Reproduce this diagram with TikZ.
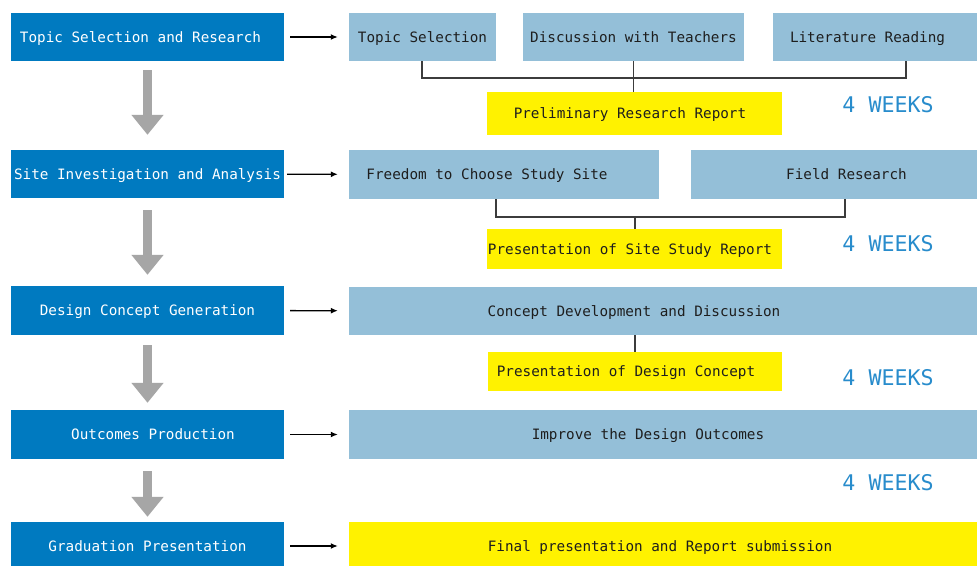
\documentclass[tikz,border=0pt]{standalone}
\usepackage{fontspec}
\setmonofont{DejaVu Sans Mono}
\usetikzlibrary{arrows.meta,calc}
\definecolor{dblue}{RGB}{0,122,192}
\definecolor{lblue}{RGB}{148,191,216}
\definecolor{yel}{RGB}{255,242,0}
\definecolor{garrow}{RGB}{166,166,166}
\definecolor{wblue}{RGB}{40,140,204}
\definecolor{txt}{RGB}{30,30,30}
\definecolor{lcol}{RGB}{60,60,60}
\tikzset{
  basefont/.style={font=\ttfamily\fontsize{14.3}{17}\selectfont, text height=10.4pt, text depth=0pt},
  lbox/.style={basefont, fill=dblue, text=white, minimum width=273pt, minimum height=48pt, inner sep=0pt},
  rbox/.style={basefont, fill=lblue, text=txt, inner sep=0pt},
  ybox/.style={basefont, fill=yel, text=txt, inner sep=0pt},
  weeks/.style={text=wblue, inner sep=0pt, font=\ttfamily\fontsize{21.6}{24}\selectfont},
  flow/.style={draw=black, line width=1.3pt, -{Latex[length=7pt,width=6pt]}},
  down/.style={draw=garrow, line width=9pt, -{Triangle[length=20pt,width=31pt]}},
  conn/.style={draw=lcol, line width=1.5pt}
}
\begin{document}
\begin{tikzpicture}[x=1pt,y=-1pt]
\useasboundingbox (0,0) rectangle (977,565);
\fill[white] (0,0) rectangle (977,565);
% left column
\node[lbox] (l1) at (147.5,37) {Topic Selection and Research\hspace*{14pt}};
\node[lbox] (l2) at (147.5,174) {Site Investigation and Analysis};
\node[lbox, minimum height=49pt] (l3) at (147.5,310.5) {Design Concept Generation};
\node[lbox, minimum height=49pt] (l4) at (147.5,434.5) {\hspace*{11pt}Outcomes Production};
\node[lbox] (l5) at (147.5,546) {Graduation Presentation};
% row 1
\node[rbox, minimum width=147pt, minimum height=48pt] (ts) at (422.5,37) {Topic Selection};
\node[rbox, minimum width=221pt, minimum height=48pt] (dt) at (633.5,37) {Discussion with Teachers};
\node[rbox, minimum width=204pt, minimum height=48pt] (lr) at (875,37) {Literature Reading\hspace*{15pt}};
\node[ybox, minimum width=295pt, minimum height=43pt] (pr) at (634.5,113.5) {Preliminary Research Report\hspace*{9pt}};
\node[weeks] (w1) at (888,105) {4 WEEKS};
% row 2
\node[rbox, minimum width=310pt, minimum height=49pt] (fc) at (504,174.5) {Freedom to Choose Study Site\hspace*{34pt}};
\node[rbox, minimum width=286pt, minimum height=49pt] (fr) at (834,174.5) {\hspace*{25pt}Field Research};
\node[ybox, minimum width=295pt, minimum height=40pt] (ys) at (634.5,249) {Presentation of Site Study Report\hspace*{9pt}};
\node[weeks] (w2) at (888,244) {4 WEEKS};
% row 3
\node[rbox, minimum width=628pt, minimum height=48pt] (cd) at (663,311) {Concept Development and Discussion\hspace*{58pt}};
\node[ybox, minimum width=294pt, minimum height=39pt] (yc) at (635,371.5) {Presentation of Design Concept\hspace*{18pt}};
\node[weeks] (w3) at (888,378) {4 WEEKS};
% row 4
\node[rbox, minimum width=628pt, minimum height=49pt] (ib) at (663,434.5) {Improve the Design Outcomes\hspace*{30pt}};
\node[weeks] (w4) at (888,483) {4 WEEKS};
% row 5
\node[ybox, minimum width=628pt, minimum height=48pt] (fp) at (663,546) {Final presentation and Report submission\hspace*{6pt}};
% horizontal flow arrows
\draw[flow, shorten <=6pt, shorten >=11pt] (l1) -- (ts);
\draw[flow, shorten <=3pt, shorten >=11pt] (l2) -- (fc);
\draw[flow, shorten <=6pt, shorten >=11pt] (l3) -- (cd);
\draw[flow, shorten <=6pt, shorten >=11pt] (l4) -- (ib);
\draw[flow, shorten <=6pt, shorten >=11pt] (l5) -- (fp);
% vertical gray arrows
\draw[down, shorten <=9pt, shorten >=15pt] (l1.south) -- (l2.north);
\draw[down, shorten <=12pt, shorten >=11pt] (l2.south) -- (l3.north);
\draw[down, shorten <=10pt, shorten >=7pt] (l3.south) -- (l4.north);
\draw[down, shorten <=12pt, shorten >=5pt] (l4.south) -- (l5.north);
% brackets
\coordinate (b1) at (634,78);
\draw[conn] ([xshift=-0.5pt]ts.south) |- (b1) -| ([xshift=31pt]lr.south);
\draw[conn] (dt.south) -- (dt.south |- pr.north);
\coordinate (b2) at (635,217);
\draw[conn] ([xshift=-8pt]fc.south) |- (b2) -| ([xshift=11pt]fr.south);
\draw[conn] (b2) -- (b2 |- ys.north);
\draw[conn] (cd.south -| yc.north) -- (yc.north);
\end{tikzpicture}
\end{document}
